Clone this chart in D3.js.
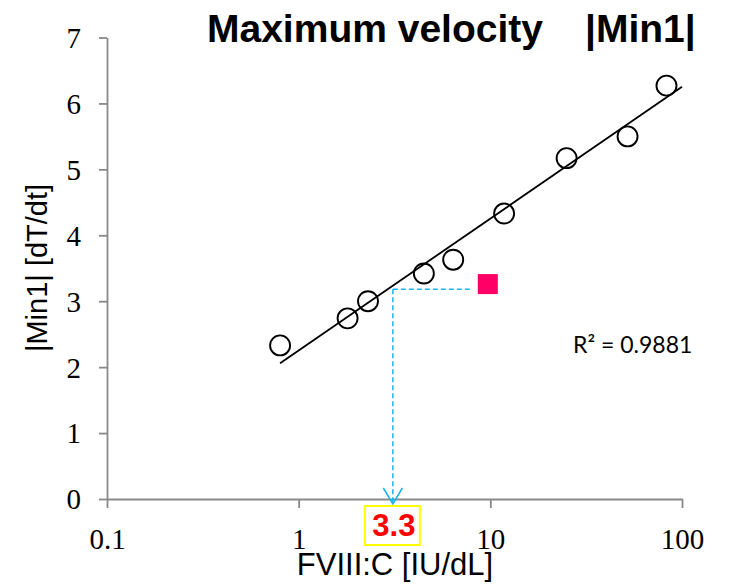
<!DOCTYPE html>
<html>
<head>
<meta charset="utf-8">
<script src="https://cdn.jsdelivr.net/npm/d3@7"></script>
<style>
  html, body { margin: 0; padding: 0; background: #fff; }
  svg { display: block; }
</style>
</head>
<body>
<div id="chart"></div>
<script>
// ---- data ----
const fviii = [0.8, 1.8, 2.3, 4.5, 6.4, 11.8, 25, 52, 83];        // FVIII:C [IU/dL]
const min1  = [2.33, 2.74, 3.0, 3.42, 3.63, 4.33, 5.17, 5.5, 6.27]; // |Min1| [dT/dt]
const xTicks = [0.1, 1, 10, 100];
const yTicks = [0, 1, 2, 3, 4, 5, 6, 7];
const trendSlope = 2.0;          // per decade
const trendIntercept = 2.253;
const trendRange = [0.8, 100];
const sampleX = [9.7];
const sampleY = [3.26];
const estimateX = [3.1];
const estimateY = [3.18];
const estimateLabel = "3.3";
const r2Label = "R\u00B2 = 0.9881";
const titleMain = "Maximum velocity";
const titleSub = "|Min1|";
const xTitle = "FVIII:C [IU/dL]";
const yTitle = "|Min1| [dT/dt]";

// ---- layout ----
const W = 733, H = 587;
const svg = d3.select("#chart").append("svg").attr("width", W).attr("height", H);

const x = d3.scaleLog().domain([0.1, 100]).range([107, 682]);
const y = d3.scaleLinear().domain([0, 7]).range([499, 37.5]);

const axisColor = "#898989";

// Y axis
const gy = svg.append("g").attr("transform", `translate(${x(0.1)},0)`)
  .call(d3.axisLeft(y).tickValues(yTicks).tickSize(8).tickSizeOuter(0).tickPadding(18).tickFormat(d3.format("d")));
// X axis
const gx = svg.append("g").attr("transform", `translate(0,${y(0)})`)
  .call(d3.axisBottom(x).tickValues(xTicks).tickSize(9).tickSizeOuter(0).tickPadding(20).tickFormat(d => String(d)));

[gx, gy].forEach(g => {
  g.attr("font-family", "'Liberation Serif', 'Times New Roman', serif").attr("font-size", 29);
  g.select(".domain").attr("stroke", axisColor).attr("stroke-width", 1.8);
  g.selectAll(".tick line").attr("stroke", axisColor).attr("stroke-width", 1.8);
  g.selectAll(".tick text").attr("fill", "#000");
});
gy.selectAll(".tick text").attr("dy", "0.34em");

// Points (open circles)
const pts = fviii.map((v, i) => ({ x: v, y: min1[i] }));
svg.append("g").selectAll("circle").data(pts).join("circle")
  .attr("cx", d => x(d.x)).attr("cy", d => y(d.y)).attr("r", 10)
  .attr("fill", "none").attr("stroke", "#000").attr("stroke-width", 1.9);

// Trend line (log fit)
const trendPts = trendRange.map(v => ({ x: v, y: trendSlope * Math.log10(v) + trendIntercept }));
svg.append("path").datum(trendPts)
  .attr("d", d3.line().x(d => x(d.x)).y(d => y(d.y)))
  .attr("fill", "none").attr("stroke", "#000").attr("stroke-width", 1.8);

// Sample square
svg.append("g").selectAll("rect").data(sampleX.map((v, i) => ({ x: v, y: sampleY[i] }))).join("rect")
  .attr("x", d => x(d.x) - 10).attr("y", d => y(d.y) - 10)
  .attr("width", 20).attr("height", 20).attr("fill", "#FF0066");

// Dashed estimate lines
const blue = "#1AB2EE";
const ex = x(estimateX[0]), ey = y(estimateY[0]);
svg.append("line")
  .attr("x1", ex).attr("y1", ey).attr("x2", x(sampleX[0]) - 18).attr("y2", ey)
  .attr("stroke", blue).attr("stroke-width", 1.5).attr("stroke-dasharray", "5,3");
const tipY = y(0) + 5;
svg.append("line")
  .attr("x1", ex).attr("y1", ey).attr("x2", ex).attr("y2", tipY - 1)
  .attr("stroke", blue).attr("stroke-width", 1.5).attr("stroke-dasharray", "5,3");
svg.append("path")
  .attr("d", `M${ex - 9.5},${tipY - 16}L${ex},${tipY}L${ex + 9.5},${tipY - 16}`)
  .attr("fill", "none").attr("stroke", blue).attr("stroke-width", 1.5);

// Estimate label box
svg.append("rect")
  .attr("x", ex - 28).attr("y", 506).attr("width", 55).attr("height", 39)
  .attr("fill", "#fff").attr("stroke", "#FFFF00").attr("stroke-width", 2);
svg.append("text")
  .attr("x", ex + 1).attr("y", 536).attr("text-anchor", "middle")
  .attr("font-family", "'Liberation Sans', Arial, sans-serif").attr("font-weight", "bold")
  .attr("font-size", 31).attr("fill", "#FF0000").text(estimateLabel);

// R² label
svg.append("text")
  .attr("x", 573).attr("y", 353)
  .attr("font-family", "Lato, 'Open Sans', sans-serif").attr("font-size", 23)
  .attr("fill", "#000").text(r2Label);

// Titles
const sans = "'Liberation Sans', Arial, sans-serif";
svg.append("text").attr("x", 207).attr("y", 42)
  .attr("font-family", sans).attr("font-weight", "bold").attr("font-size", 39).text(titleMain);
svg.append("text").attr("x", 585).attr("y", 42)
  .attr("font-family", sans).attr("font-weight", "bold").attr("font-size", 39).text(titleSub);

svg.append("text").attr("x", 395).attr("y", 575).attr("text-anchor", "middle")
  .attr("font-family", sans).attr("font-size", 31).text(xTitle);

svg.append("text").attr("transform", "translate(47,268) rotate(-90)").attr("text-anchor", "middle")
  .attr("font-family", sans).attr("font-size", 29).text(yTitle);
</script>
</body>
</html>
